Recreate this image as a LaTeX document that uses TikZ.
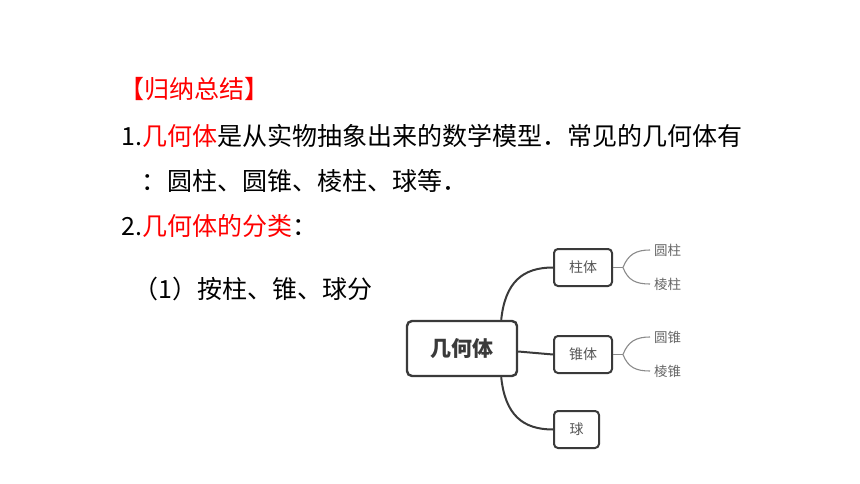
\documentclass[tikz,border=0pt]{standalone}
\usepackage{fontspec}
\setmainfont{Noto Sans CJK SC}
\definecolor{hred}{HTML}{FF0000}
\definecolor{boxline}{HTML}{3A3A3A}
\definecolor{boxtext}{HTML}{555555}
\definecolor{leafline}{HTML}{8A8A8A}
\definecolor{leaftext}{HTML}{666666}
\begin{document}
\begin{tikzpicture}[x=1pt,y=-1pt,
  bigtext/.style={anchor=base west,inner sep=0pt,font=\fontsize{25}{30}\selectfont},
  mainbox/.style={draw=boxline,line width=2.4pt,rounded corners=5pt,fill=white,minimum width=110pt,minimum height=55pt,inner sep=0pt,text=boxline,font=\fontsize{21}{24}\selectfont\bfseries},
  subbox/.style={draw=boxline,line width=2pt,rounded corners=4pt,fill=white,minimum height=37pt,inner sep=0pt,text=boxtext,font=\fontsize{14}{16}\selectfont},
  leafnode/.style={anchor=west,inner xsep=4pt,inner ysep=0pt,text=leaftext,font=\fontsize{13.5}{15}\selectfont},
  conn/.style={draw=boxline,line width=2pt},
  leafconn/.style={draw=leafline,line width=1.1pt}]
\useasboundingbox (0,0) rectangle (860,484);
% text
\node[bigtext,text=hred] (t0) at (119,99) {【归纳总结】};
\node[bigtext] (t1) at (121,146) {1.\textcolor{hred}{几何体}是从实物抽象出来的数学模型．常见的几何体有};
\node[bigtext] (t2a) at (141,191) {：};
\node[bigtext] (t2b) at (167,191) {圆柱、圆锥、棱柱、球等．};
\node[bigtext] (t3) at (121,236) {2.\textcolor{hred}{几何体的分类}：};
\node[bigtext] (t4) at (133,298) {（1）按柱、锥、球分};
% mind map
\node[mainbox] (m) at (462,348.5) {几何体};
\node[subbox,minimum width=58pt] (z) at (583,267.5) {柱体};
\node[subbox,minimum width=58pt] (c) at (583,354.5) {锥体};
\node[subbox,minimum width=45pt] (q) at (576.5,429.5) {球};
\coordinate (mt) at ([xshift=-17pt]m.north east);
\coordinate (mb) at ([xshift=-17pt]m.south east);
\coordinate (mr) at ([yshift=-3pt]m.east);
\draw[conn] (mt) .. controls +(4,-38) and +(-30,0) .. (z.west);
\draw[conn] (mr) -- (c.west);
\draw[conn] (mb) .. controls +(4,38) and +(-30,0) .. (q.west);
% leaves
\node[leafnode] (l1) at (650,250) {圆柱};
\node[leafnode] (l2) at (650,284) {棱柱};
\node[leafnode] (l3) at (650,337) {圆锥};
\node[leafnode] (l4) at (650,371) {棱锥};
\coordinate (zb) at ([xshift=10pt]z.east);
\coordinate (cb) at ([xshift=10pt]c.east);
\draw[leafconn] (z.east) -- (zb);
\draw[leafconn] (zb) .. controls +(5,-13) and +(-14,0) .. (l1.west);
\draw[leafconn] (zb) .. controls +(5,13) and +(-14,0) .. (l2.west);
\draw[leafconn] (c.east) -- (cb);
\draw[leafconn] (cb) .. controls +(5,-13) and +(-14,0) .. (l3.west);
\draw[leafconn] (cb) .. controls +(5,13) and +(-14,0) .. (l4.west);
\end{tikzpicture}
\end{document}
